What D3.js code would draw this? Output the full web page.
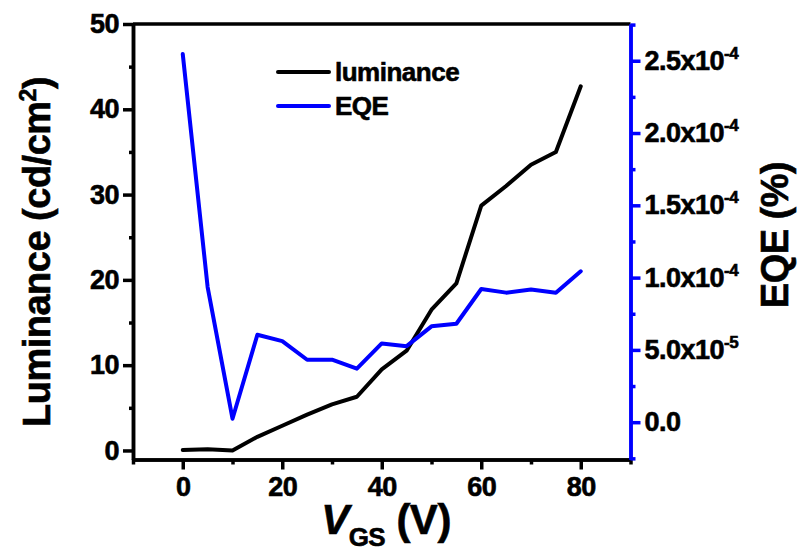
<!DOCTYPE html>
<html>
<head>
<meta charset="utf-8">
<script src="https://cdn.jsdelivr.net/npm/d3@7"></script>
<style>
  body { margin: 0; background: #fff; }
  svg { display: block; font-family: "Liberation Sans", Arial, sans-serif; font-weight: bold; }
  svg text { stroke: #000; stroke-width: 0.6px; }
  .axis text { font-size: 27px; font-weight: bold; fill: #000; letter-spacing: -0.5px; }
</style>
</head>
<body>
<svg width="799" height="551"></svg>
<script>
// gate voltage (V)
const vgs = [0, 5, 10, 15, 20, 25, 30, 35, 40, 45, 50, 55, 60, 65, 70, 75, 80];
// luminance (cd/cm2), left axis
const luminance = [0.05, 0.15, 0.0, 1.6, 2.9, 4.2, 5.4, 6.3, 9.5, 11.7, 16.5, 19.6, 28.7, 31.0, 33.5, 35.0, 42.7];
// EQE (%), right axis
const eqe = [2.546e-4, 0.935e-4, 0.024e-4, 0.605e-4, 0.561e-4, 0.432e-4, 0.432e-4, 0.37e-4,
             0.545e-4, 0.526e-4, 0.663e-4, 0.681e-4, 0.921e-4, 0.896e-4, 0.917e-4, 0.896e-4, 1.044e-4];

const xTicks = [0, 20, 40, 60, 80];
const xMinor = [-10, 10, 30, 50, 70, 90];
const lumTicks = [0, 10, 20, 30, 40, 50];
const lumMinor = [5, 15, 25, 35, 45];
const eqeTicks = [0, 0.5e-4, 1.0e-4, 1.5e-4, 2.0e-4, 2.5e-4];
const eqeMinor = [-0.25e-4, 0.25e-4, 0.75e-4, 1.25e-4, 1.75e-4, 2.25e-4, 2.75e-4];

const legendItems = [
  { name: "luminance", color: "#000" },
  { name: "EQE", color: "#0000ff" }
];

const plotL = 133, plotR = 630.5, plotT = 24, plotB = 459.5;

const svg = d3.select("svg");

const x = d3.scaleLinear().domain([-10, 90]).range([plotL, plotR]);
const yL = d3.scaleLinear().domain([-1.06, 50]).range([plotB, plotT]);
const yR = d3.scaleLinear().domain([-0.258e-4, 2.754e-4]).range([plotB, plotT]);

// top frame line
svg.append("line")
  .attr("x1", plotL).attr("x2", plotR)
  .attr("y1", plotT).attr("y2", plotT)
  .attr("stroke", "#000").attr("stroke-width", 3.5);

function thick(g, color) {
  g.selectAll("path, line").attr("stroke", color).attr("stroke-width", 3.5);
}

// bottom axis
svg.append("g").attr("class", "axis")
  .attr("transform", `translate(0,${plotB})`)
  .call(d3.axisBottom(x).tickValues(xMinor).tickSize(5).tickSizeOuter(0).tickFormat(""))
  .call(thick, "#000");
svg.append("g").attr("class", "axis")
  .attr("transform", `translate(0,${plotB})`)
  .call(d3.axisBottom(x).tickValues(xTicks).tickSize(10).tickSizeOuter(0).tickPadding(7).tickFormat(d3.format("d")))
  .call(thick, "#000");

// left axis
svg.append("g").attr("class", "axis")
  .attr("transform", `translate(${plotL},0)`)
  .call(d3.axisLeft(yL).tickValues(lumMinor).tickSize(4).tickSizeOuter(0).tickFormat(""))
  .call(thick, "#000");
svg.append("g").attr("class", "axis")
  .attr("transform", `translate(${plotL},0)`)
  .call(d3.axisLeft(yL).tickValues(lumTicks).tickSize(10).tickSizeOuter(0).tickPadding(4).tickFormat(d3.format("d")))
  .call(thick, "#000");

// right axis (blue)
svg.append("g").attr("class", "axis")
  .attr("transform", `translate(${plotR},0)`)
  .call(d3.axisRight(yR).tickValues(eqeMinor).tickSize(5).tickSizeOuter(0).tickFormat(""))
  .call(thick, "#0000ff");
const rAxis = svg.append("g").attr("class", "axis")
  .attr("transform", `translate(${plotR},0)`)
  .call(d3.axisRight(yR).tickValues(eqeTicks).tickSize(10).tickSizeOuter(0).tickPadding(4))
  .call(thick, "#0000ff");
rAxis.selectAll(".tick text").each(function(d) {
  const t = d3.select(this).text(null);
  if (d === 0) { t.text("0.0"); return; }
  const e = Math.floor(Math.log10(d) + 1e-9);
  const m = (d / Math.pow(10, e)).toFixed(1);
  t.append("tspan").text(m + "x10");
  t.append("tspan").attr("dy", -11).attr("font-size", 17).text(e);
});

// lines
const lumLine = d3.line().x((d, i) => x(vgs[i])).y(d => yL(d));
const eqeLine = d3.line().x((d, i) => x(vgs[i])).y(d => yR(d));

svg.append("path").datum(luminance)
  .attr("d", lumLine)
  .attr("fill", "none").attr("stroke", "#000").attr("stroke-width", 4)
  .attr("stroke-linejoin", "round").attr("stroke-linecap", "round");
svg.append("path").datum(eqe)
  .attr("d", eqeLine)
  .attr("fill", "none").attr("stroke", "#0000ff").attr("stroke-width", 4)
  .attr("stroke-linejoin", "round").attr("stroke-linecap", "round");

// legend
const lg = svg.append("g").attr("transform", "translate(278,72)");
legendItems.forEach((it, i) => {
  const g = lg.append("g").attr("transform", `translate(0,${i * 34})`);
  g.append("line").attr("x1", 0).attr("x2", 51).attr("y1", 0).attr("y2", 0)
    .attr("stroke", it.color).attr("stroke-width", 4).attr("stroke-linecap", "round");
  g.append("text").attr("x", 57).attr("y", 8.5)
    .attr("font-size", 26).attr("letter-spacing", -0.5).text(it.name);
});

// axis titles
const yt = svg.append("text")
  .attr("transform", "translate(50,252) rotate(-90)")
  .attr("text-anchor", "middle").attr("font-size", 38).attr("letter-spacing", -0.5);
yt.append("tspan").text("Luminance (cd/cm");
yt.append("tspan").attr("dy", -14).attr("font-size", 23).text("2");
yt.append("tspan").attr("dy", 14).text(")");

svg.append("text")
  .attr("transform", "translate(788,235) rotate(-90)")
  .attr("text-anchor", "middle").attr("font-size", 38).attr("letter-spacing", -0.5)
  .text("EQE (%)");

const xt = svg.append("text")
  .attr("x", 386).attr("y", 534)
  .attr("text-anchor", "middle").attr("font-size", 42).attr("letter-spacing", -0.5);
xt.append("tspan").attr("font-style", "italic").text("V");
xt.append("tspan").attr("dy", 12).attr("font-size", 26).text("GS");
xt.append("tspan").attr("dy", -12).text(" (V)");
</script>
</body>
</html>
